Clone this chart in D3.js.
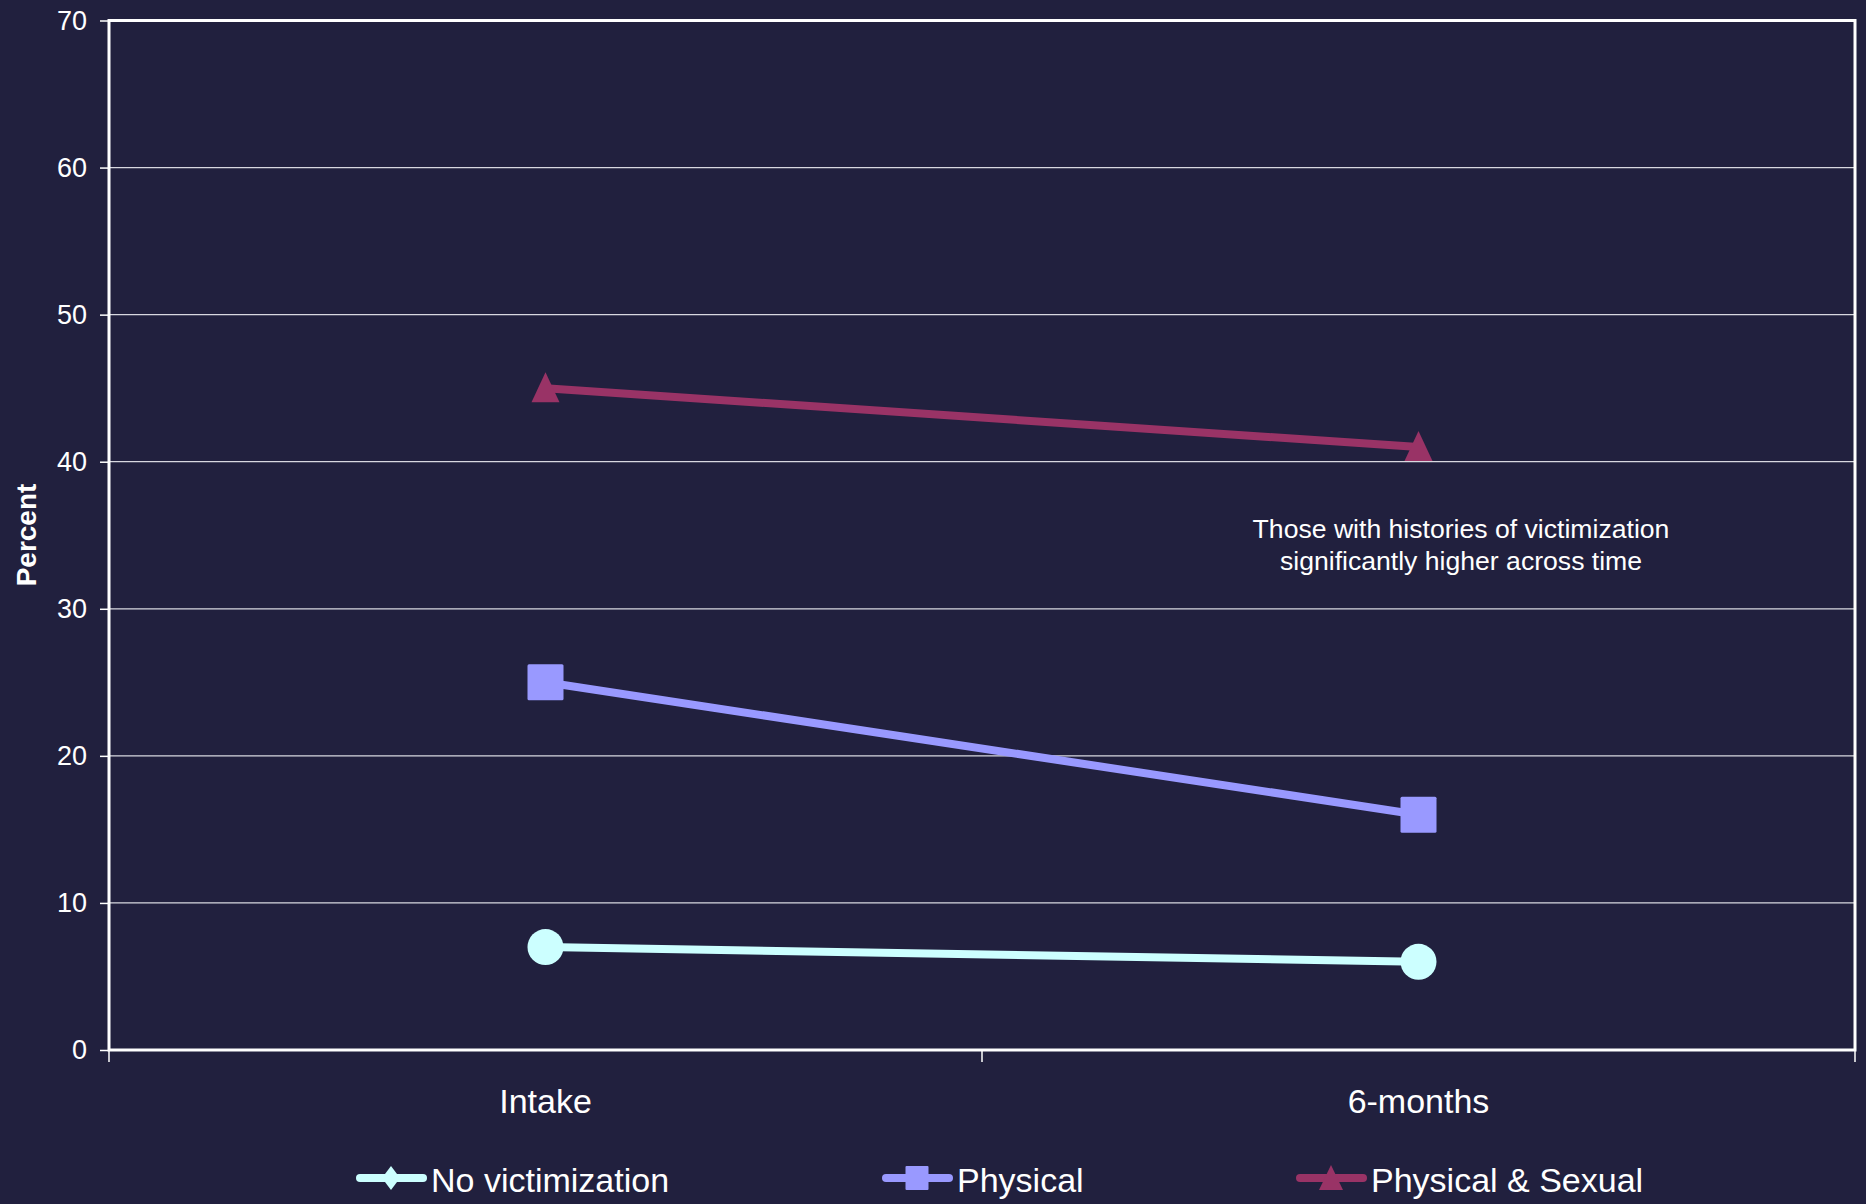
<!DOCTYPE html>
<html><head><meta charset="utf-8">
<script src="https://cdn.jsdelivr.net/npm/d3@7"></script>
<style>html,body{margin:0;padding:0;background:#21203e;}svg{display:block;}</style>
</head><body>
<script>
const categories = ["Intake", "6-months"];
const seriesNames = ["No victimization", "Physical", "Physical & Sexual"];
const noVictimization = [7, 6];
const physical = [25, 16];
const physicalSexual = [45, 41];
const yTicks = [0, 10, 20, 30, 40, 50, 60, 70];
const annotationLines = ["Those with histories of victimization", "significantly higher across time"];

const W = 1866, H = 1204;
const m = {left: 109, right: 1855, top: 20.5, bottom: 1050};
const bg = "#21203e";
const colors = ["#ccffff", "#9999ff", "#993366"];
const symbols = ["circle", "square", "triangle"];
const seriesData = [noVictimization, physical, physicalSexual];

const svg = d3.select("body").append("svg").attr("width", W).attr("height", H);
svg.append("rect").attr("width", W).attr("height", H).attr("fill", bg);

const x = d3.scaleBand().domain(categories).range([m.left, m.right]).padding(0);
const y = d3.scaleLinear().domain([0, 70]).range([m.bottom, m.top]);
const font = "Liberation Sans, Arial, sans-serif";

// gridlines
svg.append("g").selectAll("line").data(yTicks.filter(t => t > 0 && t < 70)).join("line")
  .attr("x1", m.left).attr("x2", m.right)
  .attr("y1", d => y(d)).attr("y2", d => y(d))
  .attr("stroke", "#d8d8e0").attr("stroke-width", 1.3);

// plot border
svg.append("rect").attr("x", m.left).attr("y", m.top)
  .attr("width", m.right - m.left).attr("height", m.bottom - m.top)
  .attr("fill", "none").attr("stroke", "#ffffff").attr("stroke-width", 3);

// y axis
const yAxis = svg.append("g").attr("transform", `translate(${m.left},0)`)
  .call(d3.axisLeft(y).tickValues(yTicks).tickSize(9).tickPadding(13));
yAxis.select(".domain").remove();
yAxis.selectAll(".tick line").attr("stroke", "#ffffff").attr("stroke-width", 1.5);
yAxis.selectAll(".tick text").attr("fill", "#ffffff").attr("font-family", font).attr("font-size", 27);

// x axis ticks at band boundaries
const bounds = [m.left, ...categories.map(c => x(c) + x.bandwidth())];
svg.append("g").selectAll("line").data(bounds).join("line")
  .attr("x1", d => d).attr("x2", d => d)
  .attr("y1", m.bottom).attr("y2", m.bottom + 12)
  .attr("stroke", "#ffffff").attr("stroke-width", 1.5);
svg.append("g").selectAll("text").data(categories).join("text")
  .attr("x", d => x(d) + x.bandwidth() / 2).attr("y", 1113)
  .attr("text-anchor", "middle").attr("fill", "#ffffff")
  .attr("font-family", font).attr("font-size", 34).text(d => d);

// y label
svg.append("text").attr("transform", `translate(36,535) rotate(-90)`)
  .attr("text-anchor", "middle").attr("fill", "#ffffff")
  .attr("font-family", font).attr("font-size", 28).attr("font-weight", "bold").text("Percent");

// lines & markers
const line = d3.line().x((d, i) => x(categories[i]) + x.bandwidth() / 2).y(d => y(d));
seriesData.forEach((vals, si) => {
  svg.append("path").datum(vals).attr("d", line)
    .attr("fill", "none").attr("stroke", colors[si]).attr("stroke-width", 8);
  const g = svg.append("g");
  vals.forEach((v, i) => {
    const cx = x(categories[i]) + x.bandwidth() / 2, cy = y(v);
    if (symbols[si] === "circle") {
      g.append("circle").attr("cx", cx).attr("cy", cy).attr("r", 18).attr("fill", colors[si]);
    } else if (symbols[si] === "square") {
      g.append("rect").attr("x", cx - 18).attr("y", cy - 18).attr("width", 36).attr("height", 36)
        .attr("rx", 1.5).attr("fill", colors[si]);
    } else {
      g.append("path").attr("d", `M${cx},${cy - 16} L${cx + 14},${cy + 14} L${cx - 14},${cy + 14} Z`)
        .attr("fill", colors[si]);
    }
  });
});

// annotation
const ann = svg.append("text").attr("text-anchor", "middle").attr("fill", "#ffffff")
  .attr("font-family", font).attr("font-size", 26.6);
annotationLines.forEach((t, i) => {
  ann.append("tspan").attr("x", 1461).attr("y", 538 + i * 32).text(t);
});

// legend
const legendX = [356, 882, 1296];
const ly = 1178;
seriesNames.forEach((name, si) => {
  const lx = legendX[si];
  svg.append("line").attr("x1", lx + 4).attr("x2", lx + 67).attr("y1", ly).attr("y2", ly)
    .attr("stroke", colors[si]).attr("stroke-width", 8).attr("stroke-linecap", "round");
  const cx = lx + 35;
  if (si === 0) {
    svg.append("path").attr("d", `M${cx},${ly - 12} L${cx + 9},${ly} L${cx},${ly + 12} L${cx - 9},${ly} Z`)
      .attr("fill", colors[si]);
  } else if (si === 1) {
    svg.append("rect").attr("x", cx - 11.5).attr("y", ly - 12).attr("width", 23).attr("height", 24)
      .attr("rx", 1).attr("fill", colors[si]);
  } else {
    svg.append("path").attr("d", `M${cx},${ly - 13} L${cx + 12},${ly + 12} L${cx - 12},${ly + 12} Z`)
      .attr("fill", colors[si]);
  }
  svg.append("text").attr("x", lx + 75).attr("y", 1192).attr("fill", "#ffffff")
    .attr("font-family", font).attr("font-size", 34).text(name);
});
</script>
</body></html>
